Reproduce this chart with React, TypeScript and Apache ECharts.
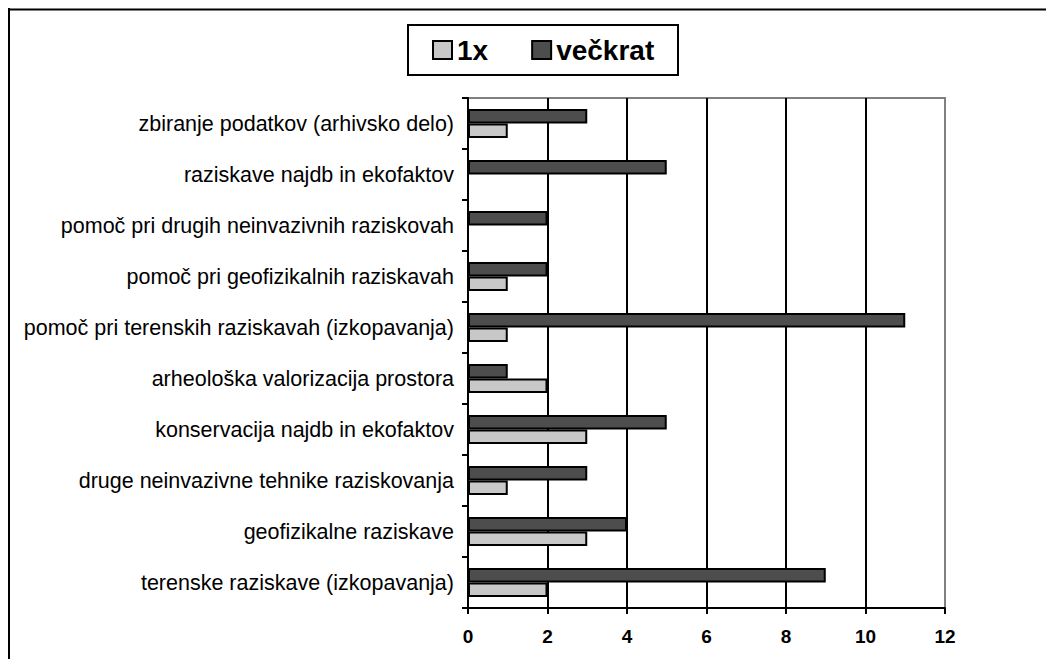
import React, { useEffect, useRef } from "react";
import * as echarts from "echarts";

const categories = [
  "terenske raziskave (izkopavanja)",
  "geofizikalne raziskave",
  "druge neinvazivne tehnike raziskovanja",
  "konservacija najdb in ekofaktov",
  "arheološka valorizacija prostora",
  "pomoč pri terenskih raziskavah (izkopavanja)",
  "pomoč pri geofizikalnih raziskavah",
  "pomoč pri drugih neinvazivnih raziskovah",
  "raziskave najdb in ekofaktov",
  "zbiranje podatkov (arhivsko delo)",
];
const once = [2, 3, 1, 3, 2, 1, 1, 0, 0, 1];
const manyTimes = [9, 4, 3, 5, 1, 11, 2, 2, 5, 3];
const seriesNames = ["1x", "večkrat"];
const xTicks = { min: 0, max: 12, interval: 2 };

const FONT = "'Liberation Sans', Arial, sans-serif";

export default function App() {
  const ref = useRef<HTMLDivElement>(null);
  useEffect(() => {
    if (!ref.current) return;
    const chart = echarts.init(ref.current, undefined, { renderer: "svg" });
    chart.setOption({
      animation: false,
      backgroundColor: "#ffffff",
      textStyle: { fontFamily: FONT },
      graphic: [
        { type: "line", shape: { x1: 1, y1: 0, x2: 1, y2: 651 }, style: { stroke: "#000", lineWidth: 2 } },
        { type: "line", shape: { x1: 0, y1: 1.5, x2: 1038, y2: 1.5 }, style: { stroke: "#000", lineWidth: 2 } },
        { type: "rect", shape: { x: 400, y: 17, width: 270, height: 50 }, style: { fill: "none", stroke: "#000", lineWidth: 2 } },
      ],
      legend: {
        left: 424,
        top: 28,
        padding: 0,
        itemGap: 43,
        itemWidth: 19,
        itemHeight: 18,
        icon: "rect",
        textStyle: { fontSize: 28, fontWeight: "bold", color: "#000", fontFamily: FONT },
        data: seriesNames,
      },
      grid: {
        left: 460,
        top: 90,
        width: 477,
        height: 510,
        show: true,
        borderColor: "#808080",
        borderWidth: 2,
        backgroundColor: "transparent",
      },
      xAxis: {
        type: "value",
        min: xTicks.min,
        max: xTicks.max,
        interval: xTicks.interval,
        axisLine: { show: true, lineStyle: { color: "#000", width: 2 } },
        axisTick: { show: true, inside: false, length: 6, lineStyle: { color: "#000", width: 2 } },
        axisLabel: { fontSize: 19, fontWeight: "bold", color: "#000", margin: 19, fontFamily: FONT },
        splitLine: { show: true, showMinLine: false, showMaxLine: false, lineStyle: { color: "#000", width: 2 } },
      },
      yAxis: {
        type: "category",
        data: categories,
        axisLine: { show: true, lineStyle: { color: "#000", width: 2 } },
        axisTick: { show: true, inside: false, length: 6, alignWithLabel: false, lineStyle: { color: "#000", width: 2 } },
        axisLabel: { fontSize: 21.5, color: "#000", margin: 14, fontFamily: FONT },
        splitLine: { show: false },
      },
      series: [
        {
          name: seriesNames[1],
          type: "bar",
          data: manyTimes,
          barWidth: 14.5,
          barGap: "0%",
          itemStyle: { color: "#4d4d4d", borderColor: "#000", borderWidth: 2 },
        },
        {
          name: seriesNames[0],
          type: "bar",
          data: once,
          barWidth: 14.5,
          barGap: "0%",
          itemStyle: { color: "#c8c8c8", borderColor: "#000", borderWidth: 2 },
        },
      ],
    });
    return () => chart.dispose();
  }, []);
  return <div ref={ref} style={{ width: 1038, height: 651 }} />;
}
